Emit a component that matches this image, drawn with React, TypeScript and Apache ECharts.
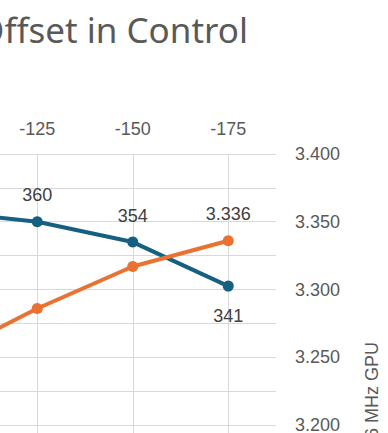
import React, { useEffect, useRef } from "react";
import * as echarts from "echarts";

const categories = ["-100", "-125", "-150", "-175"];
const scoreValues = [363, 360, 354, 341];
const clockValues = [3.25, 3.286, 3.317, 3.336];
const titleText = "Offset in Control";
const rightAxisName = "Score @ 2556 MHz GPU";

const OX = 140;

export default function App() {
  const ref = useRef<HTMLDivElement>(null);
  useEffect(() => {
    if (!ref.current) return;
    const chart = echarts.init(ref.current, undefined, { renderer: "svg" });
    const gridTop = 154;
    const gridHeight = 542;
    const labelFont = "'Liberation Sans', Arial, sans-serif";
    chart.setOption({
      animation: false,
      backgroundColor: "#ffffff",
      graphic: [
        {
          type: "text",
          x: 248 + OX,
          y: 29,
          style: {
            text: titleText,
            font: "35px 'Noto Sans', sans-serif",
            fill: "#595959",
            textAlign: "right",
            textVerticalAlign: "middle",
          },
        },
        {
          type: "text",
          x: 372 + OX,
          y: 342,
          rotation: Math.PI / 2,
          style: {
            text: rightAxisName,
            font: "18px " + labelFont,
            fill: "#595959",
            textAlign: "right",
            textVerticalAlign: "middle",
          },
        },
      ],
      grid: { left: 34, right: 124, top: gridTop, height: gridHeight },
      xAxis: {
        type: "category",
        position: "top",
        data: categories,
        boundaryGap: true,
        axisLine: { show: false },
        axisTick: {
          show: true,
          alignWithLabel: true,
          inside: true,
          length: gridHeight,
          lineStyle: { color: "#d9d9d9", width: 1 },
        },
        splitLine: { show: false },
        axisLabel: { color: "#595959", fontSize: 18, fontFamily: labelFont, margin: 16 },
      },
      yAxis: [
        {
          type: "value",
          show: false,
          min: 220,
          max: 380,
          interval: 20,
        },
        {
          type: "value",
          position: "right",
          min: 3.0,
          max: 3.4,
          interval: 0.05,
          axisLine: { show: false },
          axisTick: { show: false },
          axisLabel: {
            color: "#595959",
            fontSize: 18,
            fontFamily: labelFont,
            margin: 19,
            formatter: (v: number) => v.toFixed(3),
          },
          splitLine: { show: true, lineStyle: { color: "#d9d9d9", width: 1 } },
          minorTick: { show: false, splitNumber: 2 },
          minorSplitLine: { show: true, lineStyle: { color: "#d9d9d9", width: 1 } },
        },
      ],
      series: [
        {
          type: "line",
          yAxisIndex: 0,
          data: scoreValues.map((v, i) => ({
            value: v,
            label:
              i === scoreValues.length - 1
                ? { position: "bottom", distance: 15 }
                : { position: "top" },
          })),
          symbol: "circle",
          symbolSize: 11,
          lineStyle: { color: "#156082", width: 4 },
          itemStyle: { color: "#156082" },
          label: {
            show: true,
            color: "#404040",
            fontSize: 18,
            fontFamily: labelFont,
            distance: 12,
          },
        },
        {
          type: "line",
          yAxisIndex: 1,
          data: clockValues.map((v, i) => ({
            value: v,
            label: { show: i === clockValues.length - 1 },
          })),
          symbol: "circle",
          symbolSize: 11,
          lineStyle: { color: "#E97132", width: 4 },
          itemStyle: { color: "#E97132" },
          label: {
            show: false,
            position: "top",
            color: "#404040",
            fontSize: 18,
            fontFamily: labelFont,
            distance: 12,
            formatter: (p: any) => Number(p.value).toFixed(3),
          },
        },
      ],
    });
    return () => chart.dispose();
  }, []);
  return (
    <div
      style={{
        position: "fixed",
        left: 0,
        top: 0,
        width: 388,
        height: 433,
        overflow: "hidden",
        background: "#fff",
      }}
    >
      <div
        ref={ref}
        style={{ position: "absolute", left: -OX, top: 0, width: 540, height: 720 }}
      />
    </div>
  );
}
